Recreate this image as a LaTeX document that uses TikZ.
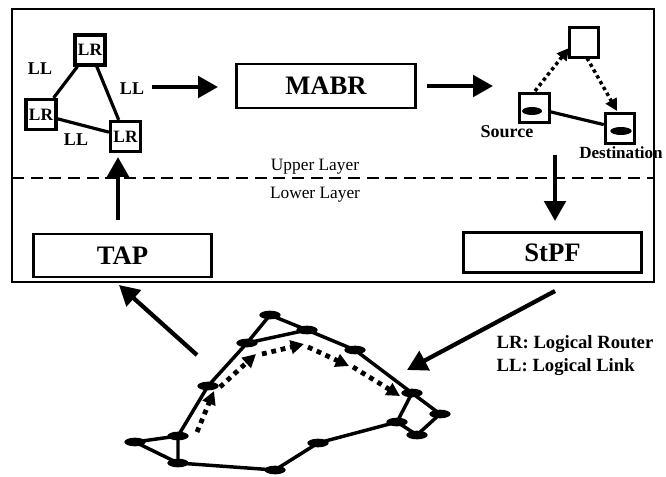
\documentclass[tikz,border=0pt]{standalone}
\usepackage{fontspec}
\setmainfont{Liberation Serif}
\usetikzlibrary{arrows.meta,shapes.geometric}
\begin{document}
\begin{tikzpicture}[x=0.75pt,y=-0.75pt,
  bigbox/.style={draw,line width=2.2pt,font=\bfseries\fontsize{20}{24}\selectfont,inner sep=0pt,minimum width=134pt},
  lrbox/.style={draw,line width=2.4pt,minimum width=22.5pt,minimum height=22.5pt,inner sep=0pt,font=\bfseries\fontsize{13}{15}\selectfont},
  plainbox/.style={draw,line width=2.4pt,minimum width=22pt,minimum height=22pt,inner sep=0pt},
  lledge/.style={line width=2.4pt},
  lltext/.style={font=\bfseries\fontsize{13.5}{16}\selectfont},
  layertext/.style={font=\fontsize{13}{15}\selectfont},
  smalltext/.style={font=\bfseries\fontsize{13.5}{16}\selectfont},
  desttext/.style={font=\bfseries\fontsize{12.8}{15}\selectfont},
  legtext/.style={font=\bfseries\fontsize{14}{16}\selectfont},
  bigarrow/.style={line width=3.2pt,-{Triangle[length=15pt,width=16pt]}},
  netnode/.style={ellipse,fill=black,minimum width=16pt,minimum height=6.5pt,inner sep=0pt},
  netedge/.style={line width=2.6pt},
  dotarrow/.style={line width=3.6pt,dash pattern=on 3.6pt off 3.6pt,-{Triangle[length=10pt,width=10pt]}},
  smalldot/.style={line width=2.6pt,dash pattern=on 2.6pt off 2.4pt,-{Triangle[length=9pt,width=9pt]}},
  blob/.style={ellipse,fill=black,inner sep=0pt,minimum width=15pt,minimum height=6pt},
]
\useasboundingbox (0,0) rectangle (666,477);

% frame and layer separator
\draw[line width=2pt] (12,9) rectangle (654,282);
\coordinate (dl) at (12,178);
\coordinate (dr) at (654,178);
\draw[line width=1.6pt,dash pattern=on 9pt off 5pt] (dl) -- (dr);
\node[layertext] (upper) at (315,167) {Upper Layer};
\node[layertext] (lower) at (315,195) {Lower Layer};

% logical routers
\node[lrbox] (lr1) at (90,50) {LR};
\node[lrbox] (lr2) at (41,114.5) {LR};
\node[lrbox] (lr3) at (125.5,136.5) {LR};
\draw[lledge] (lr1) -- (lr2);
\draw[lledge] (lr1) -- (lr3);
\draw[lledge] (lr2) -- (lr3);
\node[lltext] (ll1) at (40,69) {LL};
\node[lltext] (ll2) at (132,89) {LL};
\node[lltext] (ll3) at (76,140) {LL};

% MABR
\node[bigbox,minimum height=33pt] (mabr) at (326,86) {MABR};
\coordinate (a1s) at (152,87);
\coordinate (a1e) at (218,87);
\draw[bigarrow] (a1s) -- (a1e);
\coordinate (a2s) at (427,86);
\coordinate (a2e) at (493,86);
\draw[bigarrow] (a2s) -- (a2e);

% source / destination
\node[plainbox] (topn) at (584,42.5) {};
\node[plainbox] (src) at (534.5,108) {};
\node[plainbox] (dst) at (620,128.5) {};
\node[blob] (sblob) at (532,111) {};
\node[blob,minimum width=16pt] (dblob) at (621,131) {};
\draw[lledge] (src) -- (dst);
\coordinate (d1s) at (535,91);
\coordinate (d1e) at (569,48);
\draw[smalldot] (d1s) -- (d1e);
\coordinate (d2s) at (587,58);
\coordinate (d2e) at (617,111);
\draw[smalldot] (d2s) -- (d2e);
\node[smalltext] (srclab) at (507,132) {Source};
\node[desttext,anchor=west,inner sep=0pt] (dstlab) at (579,153) {Destination};

% TAP and StPF
\node[bigbox,minimum height=32.25pt] (tap) at (122.5,255.5) {TAP};
\node[bigbox,minimum height=29.5pt] (stpf) at (552.5,252.5) {StPF};
\coordinate (u1s) at (118,220);
\coordinate (u1e) at (118,157);
\draw[bigarrow] (u1s) -- (u1e);
\coordinate (s1s) at (555,155);
\coordinate (s1e) at (555,221);
\draw[bigarrow] (s1s) -- (s1e);
\coordinate (t2s) at (197,355);
\coordinate (t2e) at (119,285);
\draw[bigarrow] (t2s) -- (t2e);
\coordinate (p2s) at (555,291);
\coordinate (p2e) at (407,370);
\draw[bigarrow] (p2s) -- (p2e);

% physical network
\node[netnode] (A) at (270,315) {};
\node[netnode] (B) at (307,330) {};
\node[netnode] (C) at (247,343) {};
\node[netnode] (D) at (355,350) {};
\node[netnode] (E) at (208,386) {};
\node[netnode] (F) at (412,393) {};
\node[netnode] (G) at (440,414) {};
\node[netnode] (H) at (397,422) {};
\node[netnode] (I) at (178,436) {};
\node[netnode] (J) at (417,435) {};
\node[netnode] (K) at (135,442) {};
\node[netnode] (L) at (318,443) {};
\node[netnode] (M) at (178,463) {};
\node[netnode] (N) at (275,470) {};
\draw[netedge,line join=round] (A.center) -- (B.center) -- (D.center) -- (F.center) -- (G.center) -- (J.center) -- (H.center) -- (F.center);
\draw[netedge,line join=round] (A.center) -- (C.center) -- (B.center);
\draw[netedge,line join=round] (C.center) -- (E.center) -- (I.center) -- (K.center) -- (M.center) -- (I.center);
\draw[netedge,line join=round] (M.center) -- (N.center) -- (L.center) -- (H.center);

% path on physical network
\coordinate (q1s) at (197,432);
\coordinate (q1e) at (214,391);
\coordinate (q2s) at (220,387);
\coordinate (q2e) at (256,354);
\coordinate (q3s) at (262,354);
\coordinate (q3e) at (304,344);
\coordinate (q4s) at (308,347);
\coordinate (q4e) at (349,366);
\coordinate (q5s) at (353,367);
\coordinate (q5e) at (400,396);
\draw[dotarrow] (q1s) -- (q1e);
\draw[dotarrow] (q2s) -- (q2e);
\draw[dotarrow] (q3s) -- (q3e);
\draw[dotarrow] (q4s) -- (q4e);
\draw[dotarrow] (q5s) -- (q5e);

% legend
\node[legtext,anchor=west] (leg1) at (492,344) {LR: Logical Router};
\node[legtext,anchor=west] (leg2) at (492,367) {LL: Logical Link};
\end{tikzpicture}
\end{document}
